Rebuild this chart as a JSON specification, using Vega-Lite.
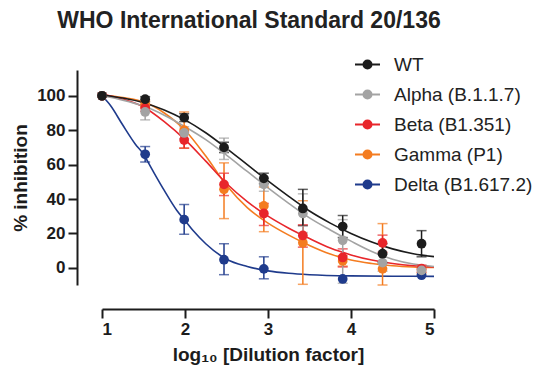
{
  "$schema": "https://vega.github.io/schema/vega-lite/v6.json",
  "width": 332,
  "height": 215,
  "autosize": {"type": "none"},
  "padding": {"left": 102, "top": 70, "right": 105, "bottom": 89},
  "background": "white",
  "title": {
    "text": "WHO International Standard 20/136",
    "frame": "group",
    "anchor": "middle",
    "fontSize": 23,
    "fontWeight": "bold",
    "font": "Liberation Sans",
    "color": "#222222",
    "baseline": "alphabetic",
    "offset": 24,
    "dx": -19,
    "dy": 24
  },
  "datasets": {
    "pts": [
      {"s": "Delta (B1.617.2)", "x": 1, "y": 100},
      {"s": "Delta (B1.617.2)", "x": 1.52, "y": 66, "lo": 61.5, "hi": 70.5},
      {"s": "Delta (B1.617.2)", "x": 1.99, "y": 28, "lo": 19.5, "hi": 36.8},
      {"s": "Delta (B1.617.2)", "x": 2.47, "y": 4.7, "lo": -4, "hi": 14},
      {"s": "Delta (B1.617.2)", "x": 2.95, "y": -0.6, "lo": -6.4, "hi": 6.4},
      {"s": "Delta (B1.617.2)", "x": 3.9, "y": -6.5},
      {"s": "Delta (B1.617.2)", "x": 4.85, "y": -4.3},
      {"s": "Gamma (P1)", "x": 1, "y": 100},
      {"s": "Gamma (P1)", "x": 1.52, "y": 95, "lo": 93, "hi": 97},
      {"s": "Gamma (P1)", "x": 1.99, "y": 80, "lo": 69.5, "hi": 90.6},
      {"s": "Gamma (P1)", "x": 2.47, "y": 45.6, "lo": 28.6, "hi": 61},
      {"s": "Gamma (P1)", "x": 2.95, "y": 36, "lo": 21, "hi": 47},
      {"s": "Gamma (P1)", "x": 3.42, "y": 14.6, "lo": -9.6, "hi": 39},
      {"s": "Gamma (P1)", "x": 3.9, "y": 4, "lo": 1, "hi": 7},
      {"s": "Gamma (P1)", "x": 4.38, "y": -0.6, "lo": -10, "hi": 25.7},
      {"s": "Gamma (P1)", "x": 4.85, "y": -1, "lo": -3, "hi": 1},
      {"s": "Beta (B1.351)", "x": 1, "y": 100},
      {"s": "Beta (B1.351)", "x": 1.52, "y": 93, "lo": 91, "hi": 95},
      {"s": "Beta (B1.351)", "x": 1.99, "y": 74.3, "lo": 69.6, "hi": 79},
      {"s": "Beta (B1.351)", "x": 2.47, "y": 48.5, "lo": 42, "hi": 55},
      {"s": "Beta (B1.351)", "x": 2.95, "y": 31.6, "lo": 24.6, "hi": 37.4},
      {"s": "Beta (B1.351)", "x": 3.42, "y": 18.8, "lo": 12, "hi": 25},
      {"s": "Beta (B1.351)", "x": 3.9, "y": 6, "lo": 0.5, "hi": 11},
      {"s": "Beta (B1.351)", "x": 4.38, "y": 14.5, "lo": 9, "hi": 19},
      {"s": "Beta (B1.351)", "x": 4.85, "y": -0.5, "lo": -2.5, "hi": 1.5},
      {"s": "Alpha (B.1.1.7)", "x": 1, "y": 100},
      {"s": "Alpha (B.1.1.7)", "x": 1.52, "y": 90.6, "lo": 86, "hi": 94},
      {"s": "Alpha (B.1.1.7)", "x": 1.99, "y": 78.4, "lo": 75, "hi": 82},
      {"s": "Alpha (B.1.1.7)", "x": 2.47, "y": 69, "lo": 63, "hi": 75.4},
      {"s": "Alpha (B.1.1.7)", "x": 2.95, "y": 48.5, "lo": 44.5, "hi": 52.5},
      {"s": "Alpha (B.1.1.7)", "x": 3.42, "y": 31.6, "lo": 20.5, "hi": 43},
      {"s": "Alpha (B.1.1.7)", "x": 3.9, "y": 16, "lo": -9, "hi": 28},
      {"s": "Alpha (B.1.1.7)", "x": 4.38, "y": 3, "lo": -2, "hi": 8},
      {"s": "Alpha (B.1.1.7)", "x": 4.85, "y": -1.5, "lo": -4, "hi": 1},
      {"s": "WT", "x": 1, "y": 100},
      {"s": "WT", "x": 1.52, "y": 98, "lo": 96.5, "hi": 99.5},
      {"s": "WT", "x": 1.99, "y": 87.3, "lo": 85, "hi": 89.6},
      {"s": "WT", "x": 2.47, "y": 70, "lo": 67, "hi": 73},
      {"s": "WT", "x": 2.95, "y": 52, "lo": 49, "hi": 55},
      {"s": "WT", "x": 3.42, "y": 34.5, "lo": 24.5, "hi": 45.6},
      {"s": "WT", "x": 3.9, "y": 24, "lo": 17.6, "hi": 30.4},
      {"s": "WT", "x": 4.38, "y": 8.2, "lo": 3, "hi": 14},
      {"s": "WT", "x": 4.85, "y": 14, "lo": 6.4, "hi": 21.6}
    ],
    "crv": [
      {"s": "Delta (B1.617.2)", "x": 1, "y": 100},
      {"s": "Delta (B1.617.2)", "x": 1.1, "y": 94.5},
      {"s": "Delta (B1.617.2)", "x": 1.25, "y": 83},
      {"s": "Delta (B1.617.2)", "x": 1.4, "y": 72},
      {"s": "Delta (B1.617.2)", "x": 1.5, "y": 66},
      {"s": "Delta (B1.617.2)", "x": 1.6, "y": 57.5},
      {"s": "Delta (B1.617.2)", "x": 1.75, "y": 45},
      {"s": "Delta (B1.617.2)", "x": 1.9, "y": 33.5},
      {"s": "Delta (B1.617.2)", "x": 2, "y": 27.5},
      {"s": "Delta (B1.617.2)", "x": 2.1, "y": 21.5},
      {"s": "Delta (B1.617.2)", "x": 2.25, "y": 14},
      {"s": "Delta (B1.617.2)", "x": 2.5, "y": 5},
      {"s": "Delta (B1.617.2)", "x": 2.75, "y": 0.8},
      {"s": "Delta (B1.617.2)", "x": 3, "y": -1.8},
      {"s": "Delta (B1.617.2)", "x": 3.25, "y": -3.2},
      {"s": "Delta (B1.617.2)", "x": 3.5, "y": -4},
      {"s": "Delta (B1.617.2)", "x": 4, "y": -4.7},
      {"s": "Delta (B1.617.2)", "x": 4.5, "y": -4.9},
      {"s": "Delta (B1.617.2)", "x": 5, "y": -5},
      {"s": "Gamma (P1)", "x": 1, "y": 100.5},
      {"s": "Gamma (P1)", "x": 1.25, "y": 99},
      {"s": "Gamma (P1)", "x": 1.5, "y": 96.5},
      {"s": "Gamma (P1)", "x": 1.75, "y": 90},
      {"s": "Gamma (P1)", "x": 2, "y": 80},
      {"s": "Gamma (P1)", "x": 2.25, "y": 65},
      {"s": "Gamma (P1)", "x": 2.5, "y": 48},
      {"s": "Gamma (P1)", "x": 2.75, "y": 35},
      {"s": "Gamma (P1)", "x": 3, "y": 26},
      {"s": "Gamma (P1)", "x": 3.25, "y": 19},
      {"s": "Gamma (P1)", "x": 3.5, "y": 13},
      {"s": "Gamma (P1)", "x": 3.75, "y": 8},
      {"s": "Gamma (P1)", "x": 4, "y": 4.5},
      {"s": "Gamma (P1)", "x": 4.25, "y": 2.5},
      {"s": "Gamma (P1)", "x": 4.5, "y": 1.2},
      {"s": "Gamma (P1)", "x": 4.75, "y": 0.5},
      {"s": "Gamma (P1)", "x": 5, "y": 0.2},
      {"s": "Beta (B1.351)", "x": 1, "y": 101},
      {"s": "Beta (B1.351)", "x": 1.25, "y": 98},
      {"s": "Beta (B1.351)", "x": 1.5, "y": 93.5},
      {"s": "Beta (B1.351)", "x": 1.75, "y": 85},
      {"s": "Beta (B1.351)", "x": 2, "y": 74.5},
      {"s": "Beta (B1.351)", "x": 2.25, "y": 62},
      {"s": "Beta (B1.351)", "x": 2.5, "y": 49},
      {"s": "Beta (B1.351)", "x": 2.75, "y": 38.5},
      {"s": "Beta (B1.351)", "x": 3, "y": 30},
      {"s": "Beta (B1.351)", "x": 3.25, "y": 23},
      {"s": "Beta (B1.351)", "x": 3.5, "y": 17},
      {"s": "Beta (B1.351)", "x": 3.75, "y": 11.5},
      {"s": "Beta (B1.351)", "x": 4, "y": 7.5},
      {"s": "Beta (B1.351)", "x": 4.25, "y": 4.5},
      {"s": "Beta (B1.351)", "x": 4.5, "y": 2.5},
      {"s": "Beta (B1.351)", "x": 4.75, "y": 1.2},
      {"s": "Beta (B1.351)", "x": 5, "y": 0.5},
      {"s": "Alpha (B.1.1.7)", "x": 1, "y": 100},
      {"s": "Alpha (B.1.1.7)", "x": 1.25, "y": 97.5},
      {"s": "Alpha (B.1.1.7)", "x": 1.5, "y": 94},
      {"s": "Alpha (B.1.1.7)", "x": 1.75, "y": 88.7},
      {"s": "Alpha (B.1.1.7)", "x": 2, "y": 82},
      {"s": "Alpha (B.1.1.7)", "x": 2.25, "y": 74.5},
      {"s": "Alpha (B.1.1.7)", "x": 2.5, "y": 65.5},
      {"s": "Alpha (B.1.1.7)", "x": 2.75, "y": 56},
      {"s": "Alpha (B.1.1.7)", "x": 3, "y": 46.5},
      {"s": "Alpha (B.1.1.7)", "x": 3.25, "y": 37.5},
      {"s": "Alpha (B.1.1.7)", "x": 3.5, "y": 29},
      {"s": "Alpha (B.1.1.7)", "x": 3.75, "y": 22},
      {"s": "Alpha (B.1.1.7)", "x": 4, "y": 15.5},
      {"s": "Alpha (B.1.1.7)", "x": 4.25, "y": 9.5},
      {"s": "Alpha (B.1.1.7)", "x": 4.5, "y": 5},
      {"s": "Alpha (B.1.1.7)", "x": 4.75, "y": 2.2},
      {"s": "Alpha (B.1.1.7)", "x": 5, "y": 0.8},
      {"s": "WT", "x": 1, "y": 100.5},
      {"s": "WT", "x": 1.25, "y": 98.7},
      {"s": "WT", "x": 1.5, "y": 96},
      {"s": "WT", "x": 1.75, "y": 91.8},
      {"s": "WT", "x": 2, "y": 86},
      {"s": "WT", "x": 2.25, "y": 78.5},
      {"s": "WT", "x": 2.5, "y": 69.5},
      {"s": "WT", "x": 2.75, "y": 60},
      {"s": "WT", "x": 3, "y": 50.5},
      {"s": "WT", "x": 3.25, "y": 41.5},
      {"s": "WT", "x": 3.5, "y": 33},
      {"s": "WT", "x": 3.75, "y": 26},
      {"s": "WT", "x": 4, "y": 20},
      {"s": "WT", "x": 4.25, "y": 15},
      {"s": "WT", "x": 4.5, "y": 11},
      {"s": "WT", "x": 4.75, "y": 8.2},
      {"s": "WT", "x": 5, "y": 6.5}
    ]
  },
  "encoding": {
    "x": {
      "field": "x", "type": "quantitative",
      "scale": {"domain": [1, 5], "nice": false, "zero": false},
      "axis": {
        "values": [1, 2, 3, 4, 5], "offset": 24, "grid": false,
        "title": "log₁₀  [Dilution factor]", "titlePadding": 8
      }
    },
    "y": {
      "field": "y", "type": "quantitative",
      "scale": {"domain": [-10, 115], "nice": false, "zero": false},
      "axis": {
        "values": [0, 20, 40, 60, 80, 100], "offset": 25, "grid": false,
        "title": "% inhibition", "titlePadding": 6
      }
    },
    "color": {
      "field": "s", "type": "nominal",
      "scale": {
        "domain": ["WT", "Alpha (B.1.1.7)", "Beta (B1.351)", "Gamma (P1)", "Delta (B1.617.2)"],
        "range": ["#1c1c1c", "#a3a3a3", "#e8262b", "#f47c20", "#1f3b8c"]
      },
      "legend": {
        "title": null,
        "orient": "none",
        "legendX": 252,
        "legendY": -19,
        "padding": 0,
        "symbolType": "M-1,0L1,0M-0.32,0A0.32,0.32,0,1,0,0.32,0A0.32,0.32,0,1,0,-0.32,0Z",
        "symbolSize": 625,
        "symbolStrokeWidth": 2,
        "rowPadding": 6,
        "labelOffset": 13,
        "labelFontSize": 19,
        "labelFont": "Liberation Sans",
        "labelColor": "#222222",
        "labelLimit": 300,
        "encode": {
          "symbols": {
            "update": {
              "stroke": {"scale": "color", "field": "value"},
              "fill": {"scale": "color", "field": "value"},
              "strokeWidth": {"value": 2},
              "opacity": {"value": 1}
            }
          }
        }
      }
    }
  },
  "layer": [
    {
      "data": {"name": "crv"},
      "mark": {"type": "line", "interpolate": "monotone", "strokeWidth": 1.6}
    },
    {
      "data": {"name": "pts"},
      "transform": [{"filter": "isValid(datum.lo)"}],
      "mark": {"type": "errorbar", "thickness": 1.5, "ticks": {"size": 10, "thickness": 1.5}},
      "encoding": {
        "y": {"field": "lo", "type": "quantitative", "title": "% inhibition"},
        "y2": {"field": "hi"}
      }
    },
    {
      "data": {"name": "pts"},
      "mark": {"type": "point", "filled": true, "opacity": 1, "size": 95}
    }
  ],
  "config": {
    "view": {"stroke": null},
    "axis": {
      "domainColor": "#1c1c1c", "domainWidth": 2,
      "tickColor": "#1c1c1c", "tickWidth": 2, "tickSize": 9,
      "labelFont": "Liberation Sans", "labelFontSize": 17, "labelFontWeight": "bold",
      "labelColor": "#1c1c1c", "labelPadding": 3,
      "titleFont": "Liberation Sans", "titleFontSize": 19, "titleFontWeight": "bold",
      "titleColor": "#1c1c1c"
    }
  }
}
